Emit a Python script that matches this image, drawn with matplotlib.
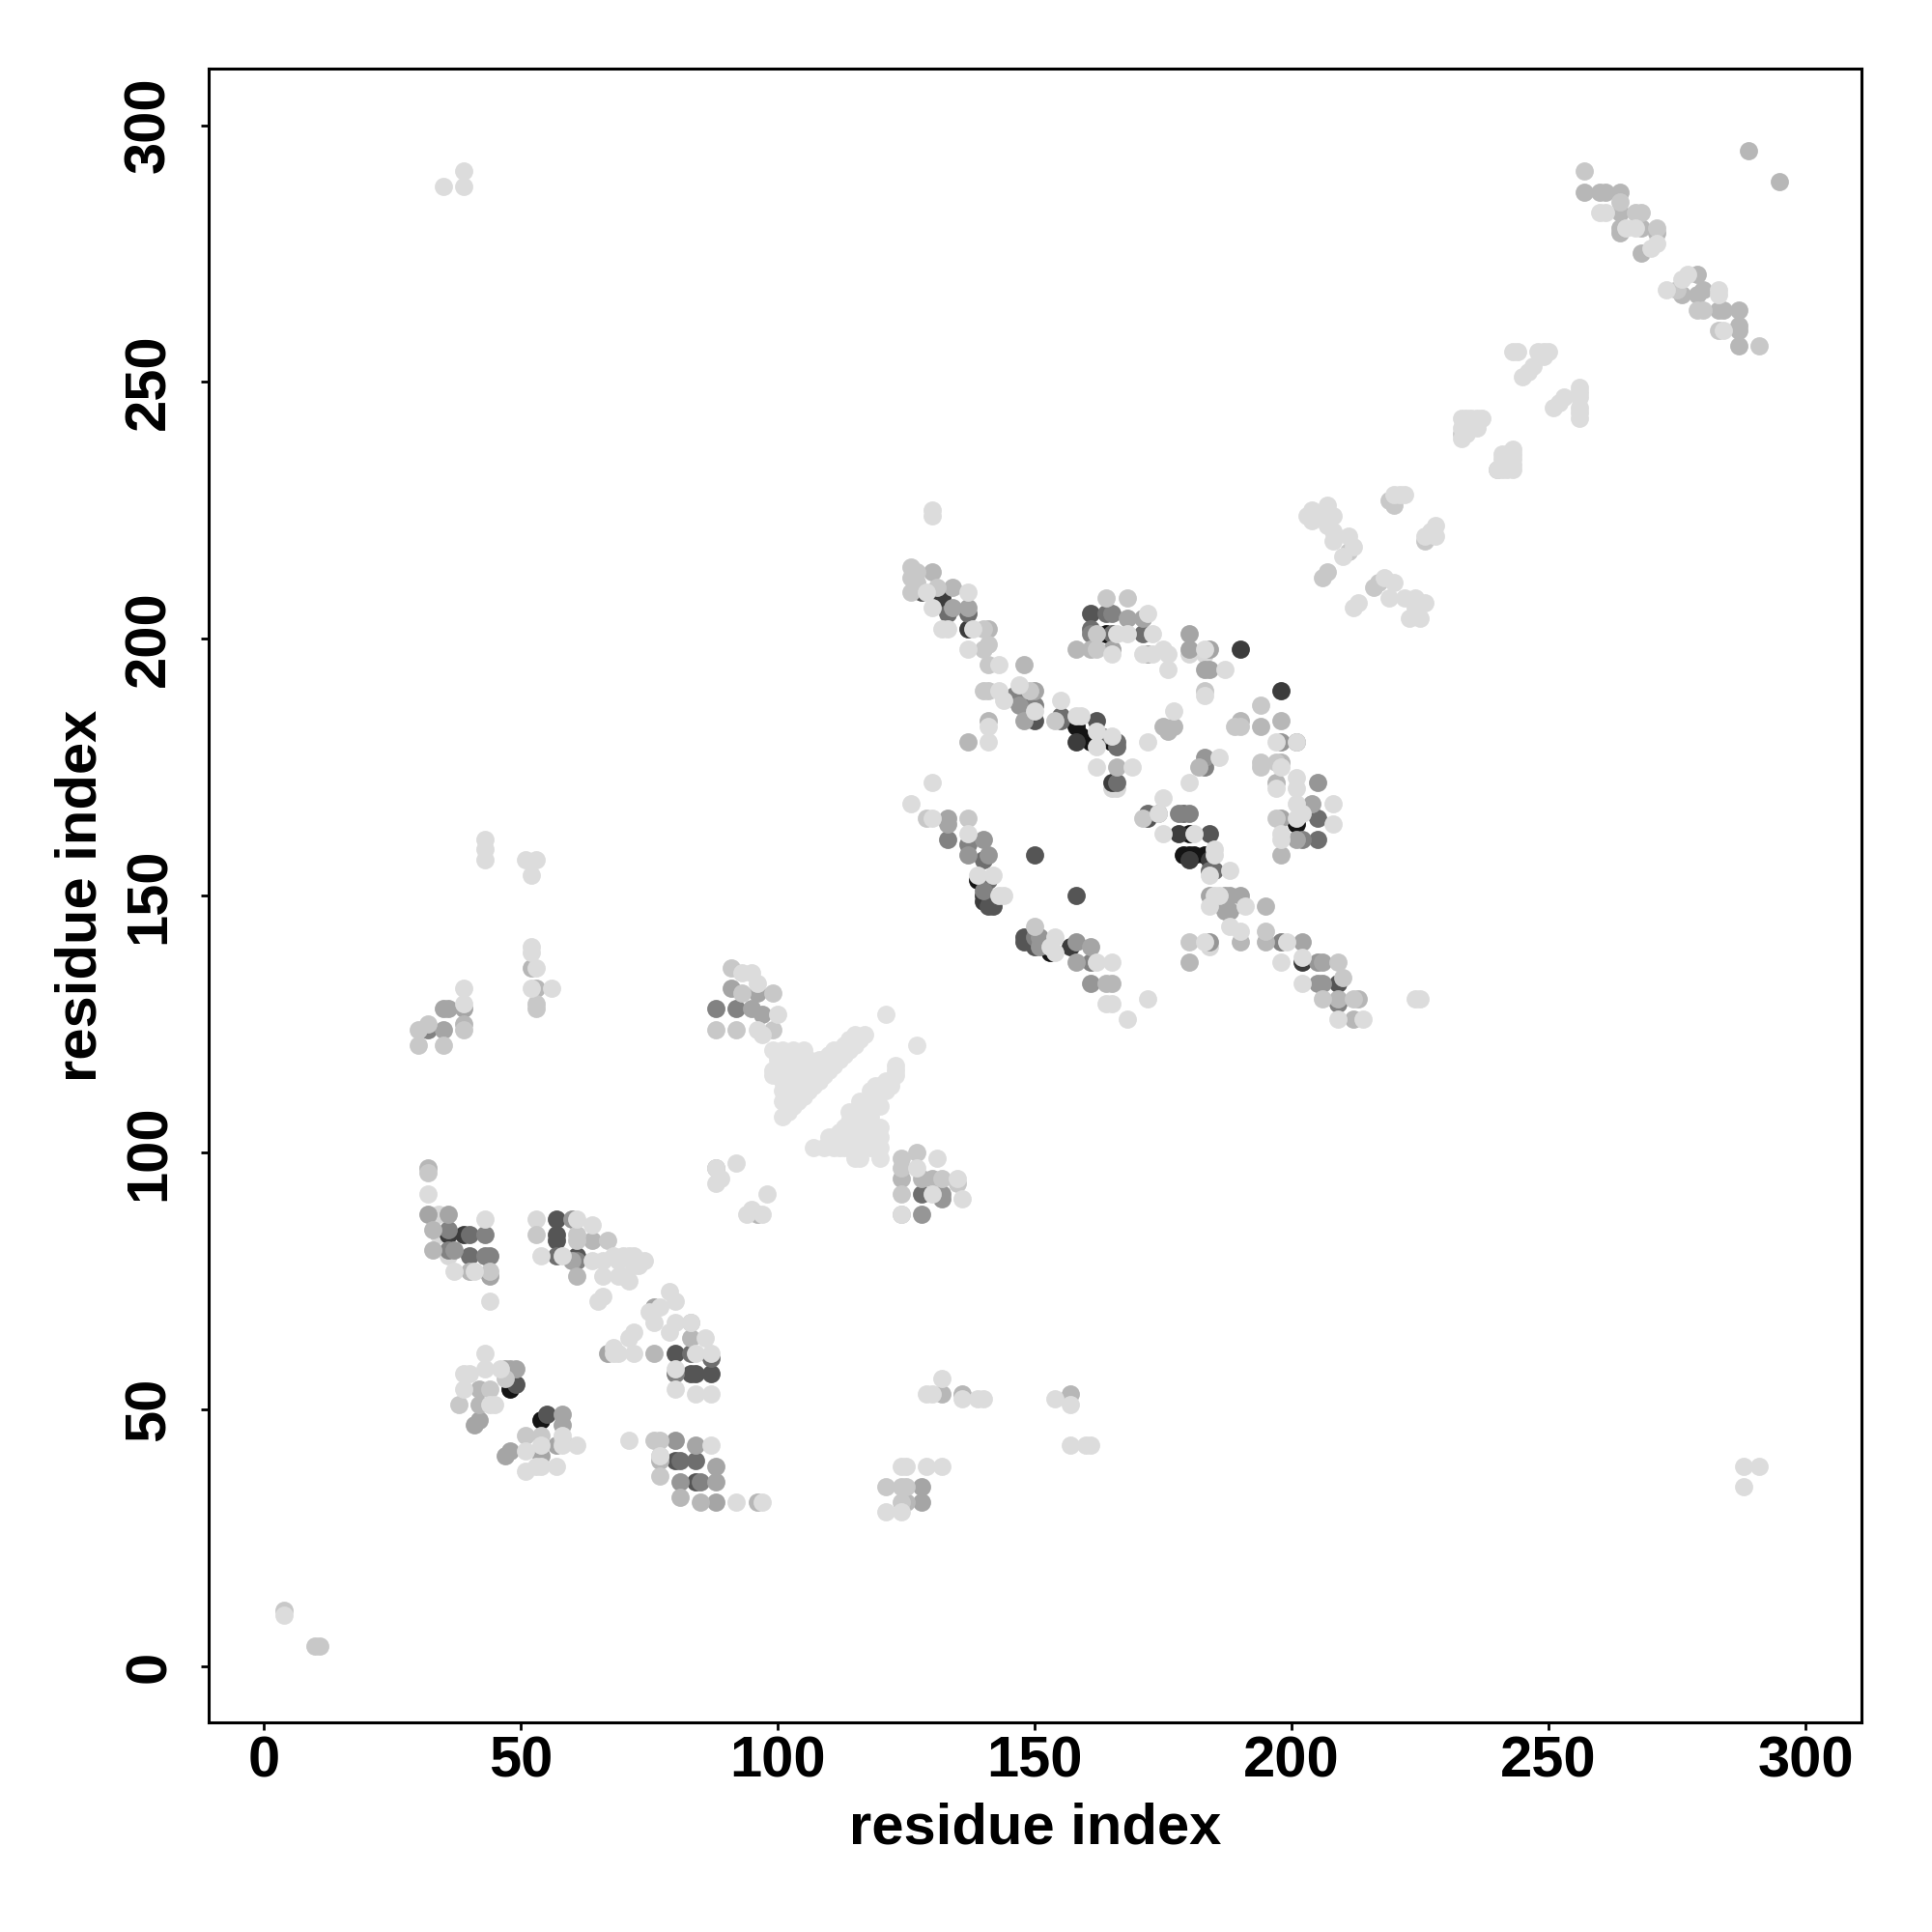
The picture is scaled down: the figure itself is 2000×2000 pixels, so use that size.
#!/usr/bin/env python3
"""
Residue contact map, points shaded by contact strength
"""

import matplotlib
matplotlib.use('Agg')
import matplotlib.pyplot as plt

plt.rcParams['font.family'] = ['Liberation Sans', 'DejaVu Sans']

# (x residue, y residue), one list per grey level
pts_under = [(34, 88), (34, 84), (36, 80), (184, 140), (180, 197), (183, 197), (165, 171), (166, 171), (53, 87)]
pts_20 = [(139, 153), (153, 139), (159, 181), (180, 158), (179, 158), (180, 162), (183, 158), (181, 158),
          (161, 180), (165, 180), (201, 164), (158, 183), (164, 201), (48, 54), (54, 48)]
pts_60 = [(140, 150), (140, 149), (157, 140), (165, 172), (178, 162), (180, 157), (184, 157), (137, 202),
          (158, 180), (190, 198), (198, 190), (36, 84), (39, 84), (132, 208), (202, 137)]
pts_85 = [(150, 158), (158, 150), (57, 87), (57, 84), (57, 83), (61, 80), (80, 61), (83, 57), (84, 57), (87, 57),
          (84, 36), (80, 40), (49, 55), (55, 49), (148, 142), (148, 141), (172, 165), (162, 184), (184, 162),
          (150, 184), (161, 205), (141, 148), (142, 148), (128, 209), (150, 140), (209, 133)]
pts_110 = [(40, 84), (40, 80), (57, 80), (83, 61), (87, 60), (147, 188), (155, 185), (155, 184), (163, 181),
           (161, 202), (164, 205), (133, 205), (166, 179), (166, 180), (166, 172), (172, 166), (179, 166),
           (141, 153), (128, 92), (140, 157), (205, 165), (205, 161), (171, 201), (84, 40), (81, 40), (137, 205),
           (165, 201), (184, 155), (185, 155)]
pts_130 = [(36, 85), (36, 81), (43, 84), (43, 80), (44, 80), (92, 128), (140, 151), (161, 137), (178, 166),
           (180, 166), (150, 187), (146, 189), (165, 205), (161, 201), (198, 141), (202, 161), (85, 36), (183, 175),
           (32, 124), (209, 129), (137, 160), (61, 79), (88, 128), (80, 57), (150, 142), (133, 161)]
pts_150 = [(60, 87), (137, 158), (151, 142), (151, 140), (158, 141), (161, 133), (140, 161), (141, 158),
           (81, 36), (132, 92), (132, 91), (128, 88), (205, 133), (206, 133), (205, 137), (147, 187),
           (184, 141), (183, 177), (198, 180), (201, 180), (205, 172), (37, 81), (80, 44)]
pts_165 = [(36, 88), (32, 88), (47, 58), (48, 58), (49, 58), (58, 49), (58, 47), (42, 48), (41, 47), (48, 42), (47, 41),
           (57, 43), (54, 41), (44, 76), (67, 61), (76, 70), (133, 165), (133, 164),
           (158, 137), (161, 140), (184, 150), (187, 150), (188, 150), (190, 150), (187, 148), (202, 141),
           (206, 137), (172, 197), (180, 201), (180, 198), (183, 194), (184, 198), (184, 194), (168, 204), (171, 204),
           (137, 206), (134, 206), (150, 190), (148, 184), (165, 198), (174, 166), (187, 147), (188, 147), (198, 165),
           (204, 168), (201, 161), (88, 39), (88, 36), (88, 32), (84, 43), (35, 128), (36, 128),
           (35, 124), (39, 128), (60, 79), (128, 35), (128, 32), (97, 127), (96, 131), (91, 132), (95, 128)]
pts_183 = [(33, 85), (33, 81), (40, 77), (61, 76), (64, 83), (83, 64), (76, 61), (58, 44), (42, 54), (42, 51),
           (77, 40), (81, 33), (85, 32), (96, 32), (124, 95), (128, 95), (130, 95), (164, 133), (165, 133),
           (180, 137), (166, 175), (182, 175), (190, 141), (195, 148), (195, 141), (197, 172), (198, 176),
           (213, 130), (212, 126), (209, 130), (141, 184), (137, 180), (148, 195), (134, 210), (130, 213), (141, 202),
           (158, 198), (161, 198), (176, 182), (175, 183), (177, 183), (190, 184), (194, 183), (198, 184),
           (53, 132), (52, 136), (88, 97), (96, 88), (198, 158), (264, 279), (268, 275), (276, 267), (32, 97),
           (257, 287), (260, 287), (261, 287), (289, 295), (295, 289), (264, 287), (264, 283), (264, 280),
           (268, 280), (271, 279), (279, 271), (280, 268), (279, 267), (283, 264), (284, 264), (287, 264),
           (287, 261), (287, 260), (287, 257), (125, 32), (136, 53), (132, 53), (157, 53), (39, 125)]
pts_200 = [(32, 96), (44, 77), (53, 84), (61, 84), (61, 83), (67, 83), (83, 67), (77, 41),
           (77, 44), (76, 44), (77, 37), (38, 51), (44, 54), (51, 45), (54, 45), (47, 56),
           (4, 11), (11, 4), (10, 4), (127, 100), (124, 97), (132, 95), (135, 94), (129, 165), (137, 165),
           (150, 144), (180, 141), (171, 165), (194, 176), (194, 175), (197, 165), (197, 176),
           (206, 130), (209, 137), (210, 134), (212, 130), (140, 198), (140, 202), (141, 199), (141, 195), (141, 190),
           (140, 190), (149, 190), (154, 184), (164, 208), (168, 208), (162, 201), (162, 198),
           (183, 190), (189, 183), (190, 183), (194, 187), (195, 143),
           (127, 213), (127, 211), (126, 214), (126, 212), (126, 209), (131, 210), (30, 124), (30, 121),
           (35, 121), (32, 125), (39, 124), (53, 129), (53, 128), (124, 32), (124, 35), (125, 35), (121, 35),
           (257, 291), (275, 268), (280, 264), (279, 264), (283, 260), (291, 257), (271, 280), (268, 283),
           (267, 283), (264, 285), (220, 226), (219, 227), (211, 217), (206, 212), (207, 213), (216, 210),
           (217, 211), (226, 219), (233, 240), (240, 233), (241, 234), (91, 136), (99, 124), (88, 124), (92, 124),
           (93, 131), (99, 131), (124, 99), (124, 92), (124, 88)]
pts_220 = [(32, 92), (37, 77), (41, 77), (43, 87), (44, 71), (54, 80), (58, 80),
           (61, 87), (64, 86), (66, 79), (66, 76), (64, 79), (65, 71), (66, 72), (68, 80), (69, 79), (70, 80),
           (71, 80), (72, 80), (73, 78), (70, 76), (71, 75), (69, 76), (72, 78), (72, 79), (73, 79), (74, 79),
           (79, 73), (75, 69), (76, 67), (77, 70), (80, 71), (80, 67), (83, 67), (86, 64), (79, 65), (72, 65),
           (71, 64), (68, 62), (68, 61), (69, 61), (72, 61), (84, 61), (87, 61), (80, 58), (80, 54), (84, 53),
           (87, 53), (43, 61), (40, 57), (39, 57), (43, 58), (46, 58), (39, 54), (44, 51), (45, 51), (58, 45),
           (58, 43), (61, 43), (54, 43), (51, 42), (51, 38), (54, 39), (57, 39), (53, 39), (71, 44), (87, 43),
           (77, 41), (92, 32), (97, 32), (92, 98), (88, 94), (89, 95), (88, 97), (98, 92), (94, 88), (97, 88),
           (95, 89), (4, 10), (35, 288), (39, 291), (39, 288), (288, 35), (288, 39), (291, 39), (43, 161),
           (43, 159), (43, 157), (51, 157), (53, 157), (52, 154), (52, 140), (52, 139), (52, 132), (53, 136),
           (56, 132), (39, 132), (39, 129), (129, 53), (130, 53), (132, 56), (136, 52), (139, 52), (140, 52),
           (154, 52), (157, 51), (157, 43), (160, 43), (161, 43), (121, 30), (124, 30), (124, 39), (125, 39),
           (129, 39), (132, 39), (224, 130), (225, 130), (130, 172), (126, 168), (130, 225), (130, 224),
           (93, 135), (95, 135), (96, 133), (96, 124), (97, 123), (100, 127), (127, 97),
           (131, 99), (135, 95), (136, 91), (130, 92), (124, 88),
           # 125-215 sheets
           (130, 165), (137, 162), (139, 154), (142, 154), (143, 150), (144, 150), (153, 140), (154, 142), (154, 139),
           (162, 137), (165, 137), (164, 129), (165, 129), (168, 126), (172, 130), (162, 175), (169, 175),
           (172, 180), (186, 177), (180, 172), (175, 169), (174, 166), (175, 162), (181, 162), (185, 159), (185, 158),
           (188, 155), (184, 154), (185, 150), (186, 150), (184, 148), (191, 148), (188, 144), (190, 143),
           (183, 141), (199, 141), (198, 137), (202, 138), (202, 133), (209, 126), (214, 126), (197, 180),
           (198, 175), (201, 173), (201, 171), (201, 168), (201, 165), (208, 168), (202, 166), (208, 164), (198, 162),
           (198, 161), (197, 171), (130, 206), (129, 209), (137, 209), (133, 202), (132, 202), (137, 198),
           (138, 202), (143, 195), (143, 190), (144, 188), (147, 191), (150, 186), (155, 188), (141, 183),
           (141, 180), (158, 185), (159, 185), (162, 182), (162, 179), (165, 181), (172, 205),
           (168, 201), (166, 201), (173, 201), (165, 197), (171, 197), (173, 197), (175, 198), (176, 197), (176, 194),
           (183, 198), (187, 194), (183, 189), (177, 186), (201, 180),
           # 200-256 near-diagonal patches
           (207, 226), (204, 225), (203, 224), (204, 223), (208, 224), (206, 224), (207, 222), (208, 221), (208, 219),
           (211, 220), (212, 218), (210, 216), (213, 207), (212, 206), (218, 212), (220, 211), (219, 208), (222, 208),
           (224, 208), (226, 207), (223, 204), (225, 204), (224, 206), (220, 228), (221, 228), (222, 228), (228, 222),
           (227, 221), (226, 220), (228, 220), (237, 243), (236, 243), (235, 243), (234, 243), (233, 243), (233, 241),
           (233, 239), (234, 242), (235, 242), (234, 241), (235, 241), (236, 241), (234, 240), (243, 237), (243, 236),
           (243, 235), (243, 234), (243, 233), (242, 236), (242, 235), (242, 234), (241, 236), (241, 235), (240, 233),
           (241, 233), (242, 233), (244, 256), (243, 256), (248, 256), (249, 256), (250, 256), (249, 255), (247, 253),
           (246, 252), (245, 251), (256, 249), (256, 248), (256, 247), (253, 247), (252, 246), (251, 245), (256, 245),
           (256, 244), (256, 243),
           # 255-291 near-diagonal patches
           (260, 283), (261, 283), (265, 280), (267, 280), (271, 277), (270, 276), (277, 271),
           (276, 270), (283, 268), (283, 267), (284, 260), (273, 268)]
# pale antiparallel block around residues 100-123
pts_226 = [(99, 120), (101, 120), (103, 120), (105, 120), (100, 118), (102, 118), (104, 118), (106, 118), (99, 116),
           (99, 115), (100, 116), (102, 116), (104, 116), (106, 117), (101, 114), (103, 114), (105, 114), (107, 115),
           (101, 112), (103, 112), (105, 113), (101, 110), (103, 110), (104, 110), (102, 108), (101, 107), (103, 109),
           (105, 111), (106, 112), (107, 113), (108, 114), (109, 115), (110, 116), (111, 117), (112, 118), (113, 119),
           (114, 120), (115, 121), (116, 122), (115, 123), (117, 123), (121, 127), (127, 121), (106, 115), (107, 117),
           (108, 116), (108, 118), (109, 118), (110, 118), (110, 119), (111, 120), (112, 120), (113, 121), (114, 122),
           (115, 122), (107, 101), (109, 101), (110, 102), (110, 103), (111, 101), (111, 103),
           (112, 101), (112, 103), (112, 104), (113, 101), (113, 103), (113, 105), (114, 105), (114, 106), (114, 108),
           (115, 99), (115, 101), (115, 103), (115, 106), (115, 107), (116, 99), (116, 105), (116, 106), (116, 108),
           (116, 110), (117, 101), (117, 103), (117, 105), (117, 108), (117, 110), (118, 101), (118, 103), (118, 105),
           (118, 107), (118, 110), (118, 112), (119, 103), (119, 110), (119, 112), (119, 113), (120, 99), (120, 101),
           (120, 103), (120, 105), (120, 109), (120, 112), (120, 113), (121, 112), (121, 114), (122, 113), (122, 114),
           (123, 115), (123, 116), (123, 117)]

grey_levels = [216, 20, 60, 85, 110, 130, 150, 165, 183, 200, 220, 226]
grey_points = [pts_under, pts_20, pts_60, pts_85, pts_110, pts_130, pts_150, pts_165, pts_183, pts_200, pts_220, pts_226]

axis_ticks = [0, 50, 100, 150, 200, 250, 300]

fig = plt.figure(figsize=(10, 10), dpi=200)
ax = fig.add_axes([0.108, 0.1085, 0.8555, 0.856])

# Darkest first so the pale points sit on top, pts_under goes in below everything
for level, pts in zip(grey_levels, grey_points):
    xs = [p[0] for p in pts]
    ys = [p[1] for p in pts]
    shade = level / 255
    ax.scatter(xs, ys, s=46, color=(shade, shade, shade), linewidths=0, zorder=3)

ax.set_xlim(-10.7, 310.9)
ax.set_ylim(-10.9, 311)
ax.set_xticks(axis_ticks)
ax.set_yticks(axis_ticks)

ax.tick_params(axis='both', length=3, width=1, labelsize=21.5)
ax.tick_params(axis='x', pad=2)
ax.tick_params(axis='y', pad=9)
for lab in ax.get_xticklabels():
    lab.set_fontweight('bold')
for lab in ax.get_yticklabels():
    lab.set_fontweight('bold')
    lab.set_rotation(90)
    lab.set_va('center')

ax.set_xlabel('residue index', fontsize=21.5, fontweight='bold', labelpad=5)
ax.set_ylabel('residue index', fontsize=21.5, fontweight='bold', labelpad=6)

for spine in ax.spines.values():
    spine.set_linewidth(1.1)

plt.savefig('out.png', dpi=200, facecolor='white')
